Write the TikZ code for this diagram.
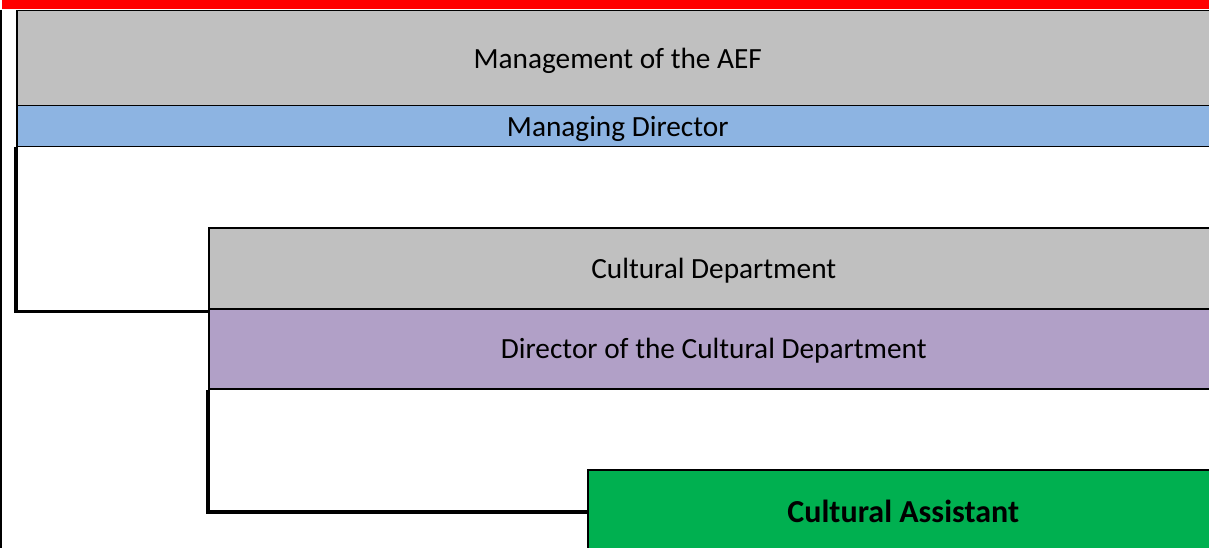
\documentclass[tikz,border=0pt]{standalone}
\usepackage{fontspec}
\setmainfont{Carlito}
\definecolor{mgray}{HTML}{C0C0C0}
\definecolor{mblue}{HTML}{8DB4E2}
\definecolor{mpurple}{HTML}{B1A0C7}
\definecolor{mgreen}{HTML}{00B050}
\definecolor{mred}{HTML}{FF0000}
\begin{document}
\begin{tikzpicture}[x=1pt,y=-1pt,
  box/.style={draw=black, line width=1.5pt, anchor=north west, inner sep=0pt,
    font=\fontsize{29.3}{35}\selectfont, text=black, text depth=0pt},
  conn/.style={draw=black, line width=3.6pt}]
\useasboundingbox (0,0) rectangle (1209,548);
\clip (0,0) rectangle (1209,548);
\fill[mred] (2,0) rectangle (1209,9.5);
\draw[line width=2.2pt] (1,10) -- (1,548);
\node[box, fill=mgray, minimum width=1202pt, minimum height=95pt] (mgmt) at (16,10) {Management of the AEF};
\node[box, fill=mblue, minimum width=1202pt, minimum height=41pt] (md) at (16,105) {Managing Director};
\node[box, fill=mgray, minimum width=1010pt, minimum height=81pt] (cd) at (208,227) {Cultural Department};
\node[box, fill=mpurple, minimum width=1010pt, minimum height=80pt] (dir) at (208,308) {Director of the Cultural Department};
\node[box, fill=mgreen, minimum width=631pt, minimum height=84pt, text depth=, font=\fontsize{32}{38}\selectfont\bfseries] (ca) at (587,469) {Cultural Assistant};
\draw[conn] (md.south west) |- ([yshift=-2pt]cd.south west);
\draw[conn] (dir.south west) |- (ca.west);
\end{tikzpicture}
\end{document}
